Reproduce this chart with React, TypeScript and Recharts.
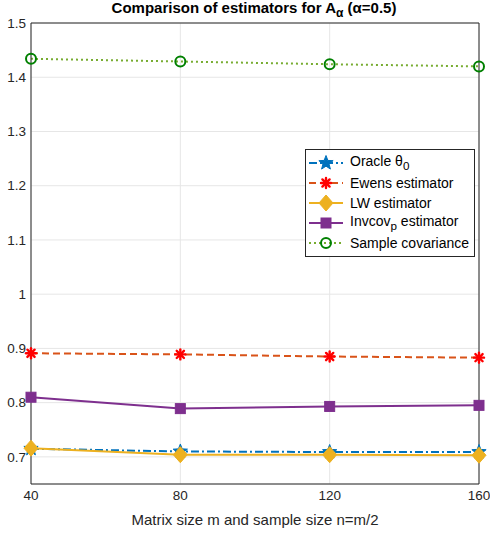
import React from 'react';
import { LineChart, Line, XAxis, YAxis, CartesianGrid, ReferenceLine, Legend } from 'recharts';

const sizes = [40, 80, 120, 160];
const oracle = [0.715, 0.71, 0.709, 0.709];
const ewens = [0.891, 0.889, 0.885, 0.883];
const lw = [0.716, 0.704, 0.704, 0.703];
const invcov = [0.81, 0.789, 0.793, 0.795];
const sampleCov = [1.434, 1.429, 1.424, 1.42];
const yTicks = [0.7, 0.8, 0.9, 1.0, 1.1, 1.2, 1.3, 1.4, 1.5];

const data = sizes.map((m, i) => ({
  m,
  oracle: oracle[i],
  ewens: ewens[i],
  lw: lw[i],
  invcov: invcov[i],
  sampleCov: sampleCov[i],
}));

const FONT = '"Liberation Sans", Arial, sans-serif';
const INK = '#262626';

const BLUE = '#0072BD';
const ORANGE = '#D95319';
const YELLOW = '#EDB120';
const PURPLE = '#7E2F8E';
const GREEN = '#77AC30';

const starPoints = (cx: number, cy: number, ro: number, ri: number) => {
  const pts: string[] = [];
  for (let k = 0; k < 10; k++) {
    const r = k % 2 === 0 ? ro : ri;
    const a = -Math.PI / 2 + (k * Math.PI) / 5;
    pts.push(`${cx + r * Math.cos(a)},${cy + r * Math.sin(a)}`);
  }
  return pts.join(' ');
};

const StarMark = ({ cx, cy }: any) => (
  <polygon points={starPoints(cx, cy, 7.5, 3.2)} fill={BLUE} stroke={BLUE} strokeWidth={1} />
);

const AsteriskMark = ({ cx, cy }: any) => (
  <g stroke="#FF0000" strokeWidth={2.4} strokeLinecap="round">
    <line x1={cx - 5} y1={cy} x2={cx + 5} y2={cy} />
    <line x1={cx} y1={cy - 5} x2={cx} y2={cy + 5} />
    <line x1={cx - 3.6} y1={cy - 3.6} x2={cx + 3.6} y2={cy + 3.6} />
    <line x1={cx - 3.6} y1={cy + 3.6} x2={cx + 3.6} y2={cy - 3.6} />
    <circle cx={cx} cy={cy} r={2.5} fill="#FF0000" stroke="none" />
  </g>
);

const DiamondMark = ({ cx, cy }: any) => (
  <polygon
    points={`${cx},${cy - 8} ${cx + 7},${cy} ${cx},${cy + 8} ${cx - 7},${cy}`}
    fill={YELLOW}
    stroke={YELLOW}
  />
);

const SquareMark = ({ cx, cy }: any) => (
  <rect x={cx - 5} y={cy - 5} width={10} height={10} fill={PURPLE} stroke={PURPLE} />
);

const CircleMark = ({ cx, cy }: any) => (
  <circle cx={cx} cy={cy} r={5} fill="none" stroke="#008000" strokeWidth={2} />
);

const series = [
  { key: 'oracle', color: BLUE, dash: '8 3 2 3', Mark: StarMark, label: <>Oracle θ<sub>0</sub></> },
  { key: 'ewens', color: ORANGE, dash: '7 4', Mark: AsteriskMark, label: <>Ewens estimator</> },
  { key: 'lw', color: YELLOW, dash: undefined, Mark: DiamondMark, label: <>LW estimator</> },
  { key: 'invcov', color: PURPLE, dash: undefined, Mark: SquareMark, label: <>Invcov<sub>p</sub> estimator</> },
  { key: 'sampleCov', color: GREEN, dash: '2 3', Mark: CircleMark, label: <>Sample covariance</> },
];

const renderLegend = () => (
  <div
    style={{
      border: `1px solid ${INK}`,
      background: '#fff',
      padding: '3px 5px 3px 2px',
      fontFamily: FONT,
      fontSize: 14,
      color: '#000',
    }}
  >
    {series.map((s) => (
      <div key={s.key} style={{ display: 'flex', alignItems: 'center', height: 20 }}>
        <svg width={40} height={20} style={{ flex: 'none' }}>
          <line x1={1} y1={10} x2={35} y2={10} stroke={s.color} strokeWidth={2} strokeDasharray={s.dash} />
          <s.Mark cx={18} cy={10} />
        </svg>
        <span style={{ marginLeft: 2, whiteSpace: 'nowrap', lineHeight: '14px' }}>{s.label}</span>
      </div>
    ))}
  </div>
);

export default function App() {
  return (
    <div style={{ position: 'absolute', left: 0, top: 0, width: 490, height: 533, background: '#fff', fontFamily: FONT }}>
      <div
        style={{
          position: 'absolute',
          left: 0,
          width: 508,
          top: 0,
          textAlign: 'center',
          fontWeight: 'bold',
          fontSize: 15,
          color: '#000',
          lineHeight: '16px',
        }}
      >
        Comparison of estimators for A<sub style={{ fontSize: 12 }}>α</sub> (α=0.5)
      </div>
      <LineChart
        width={490}
        height={533}
        data={data}
        margin={{ top: 23, right: 11, bottom: 0, left: 0 }}
        style={{ fontFamily: FONT }}
      >
        <CartesianGrid stroke="#e6e6e6" strokeWidth={1} />
        <XAxis
          dataKey="m"
          type="number"
          domain={[40, 160]}
          ticks={sizes}
          height={49}
          stroke={INK}
          tickLine={false}
          tickSize={3}
          tickMargin={3}
          tick={{ fill: INK, fontSize: 13.5 }}
          label={{ value: 'Matrix size m and sample size n=m/2', position: 'insideBottom', offset: 8, fill: INK, fontSize: 15 }}
        />
        <YAxis
          type="number"
          domain={[0.65, 1.5]}
          ticks={yTicks}
          width={31}
          stroke={INK}
          tickLine={false}
          tickSize={3}
          tickMargin={2}
          tick={{ fill: INK, fontSize: 13.5 }}
          tickFormatter={(v: number) => String(Number(v.toFixed(1)))}
          allowDataOverflow
        />
        <ReferenceLine y={1.5} stroke={INK} strokeWidth={1} />
        <ReferenceLine x={160} stroke={INK} strokeWidth={1} />
        {series.map((s) => (
          <Line
            key={s.key}
            dataKey={s.key}
            stroke={s.color}
            strokeWidth={2}
            strokeDasharray={s.dash}
            type="linear"
            dot={(p: any) => <s.Mark key={`${s.key}-${p.index}`} cx={p.cx} cy={p.cy} />}
            activeDot={false}
            isAnimationActive={false}
          />
        ))}
        <Legend
          content={renderLegend}
          layout="horizontal"
          align="center"
          verticalAlign="middle"
          wrapperStyle={{ left: 305, top: 149, width: 'auto' }}
        />
      </LineChart>
    </div>
  );
}
